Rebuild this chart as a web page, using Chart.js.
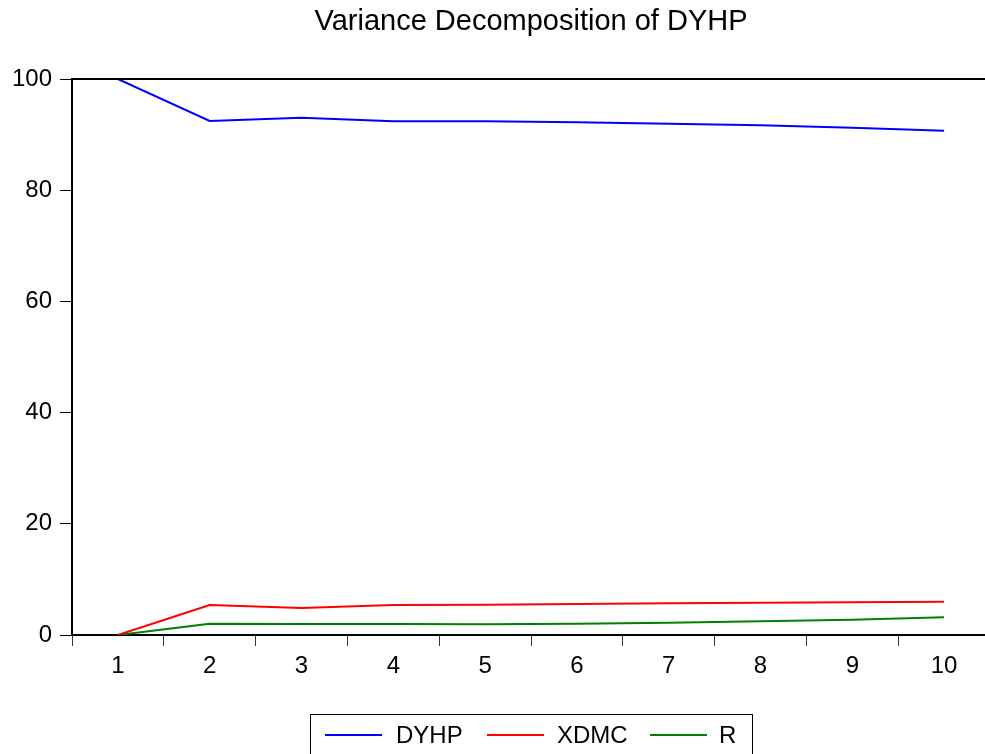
<!DOCTYPE html>
<html>
<head>
<meta charset="utf-8">
<script src="https://cdn.jsdelivr.net/npm/chart.js@4/dist/chart.umd.min.js"></script>
<style>
  html, body { margin: 0; padding: 0; background: #fff; overflow: hidden; }
  #wrap { width: 1000px; height: 754px; }
</style>
</head>
<body>
<div id="wrap"><canvas id="chart" width="1000" height="754"></canvas></div>
<script>
const periods = ['1', '2', '3', '4', '5', '6', '7', '8', '9', '10'];
const dyhp = [100, 92.45, 93.04, 92.39, 92.39, 92.21, 91.96, 91.67, 91.24, 90.70];
const xdmc = [0, 5.40, 4.86, 5.40, 5.46, 5.58, 5.70, 5.81, 5.88, 5.99];
const rVals = [0, 2.03, 1.98, 1.98, 1.95, 2.03, 2.21, 2.46, 2.75, 3.18];
const yTicks = [0, 20, 40, 60, 80, 100];

const FONT = "'Liberation Sans', Arial, sans-serif";

// title, top frame line and boxed legend like the EViews output
const frameAndLegend = {
    id: 'frameAndLegend',
    afterDraw(chart) {
        const ctx = chart.ctx;
        const area = chart.chartArea;
        ctx.save();

        ctx.strokeStyle = '#000';
        ctx.lineWidth = 2;
        ctx.beginPath();
        ctx.moveTo(area.left, area.top);
        ctx.lineTo(chart.width, area.top);
        ctx.stroke();

        ctx.fillStyle = '#000';
        ctx.font = '29px ' + FONT;
        ctx.textAlign = 'center';
        ctx.textBaseline = 'middle';
        ctx.fillText('Variance Decomposition of DYHP', (area.left + area.right) / 2, 22);

        // legend
        ctx.lineWidth = 1;
        ctx.strokeRect(310.5, 714.5, 442, 60);
        const items = [
            { x: 325, textX: 396 },
            { x: 487, textX: 557 },
            { x: 650, textX: 719 }
        ];
        ctx.font = '24px ' + FONT;
        ctx.textAlign = 'left';
        chart.data.datasets.forEach((ds, i) => {
            const it = items[i];
            ctx.strokeStyle = ds.borderColor;
            ctx.lineWidth = 2;
            ctx.beginPath();
            ctx.moveTo(it.x, 735);
            ctx.lineTo(it.x + 57, 735);
            ctx.stroke();
            ctx.fillStyle = '#000';
            ctx.fillText(ds.label, it.textX, 736);
        });
        ctx.restore();
    }
};

const ctx = document.getElementById('chart').getContext('2d');
new Chart(ctx, {
    type: 'line',
    data: {
        labels: periods,
        datasets: [
            { label: 'DYHP', data: dyhp, borderColor: '#0000ff' },
            { label: 'XDMC', data: xdmc, borderColor: '#ff0000' },
            { label: 'R', data: rVals, borderColor: '#008000' }
        ]
    },
    options: {
        responsive: false,
        animation: false,
        layout: { padding: { top: 79, right: 10, left: 0, bottom: 0 } },
        elements: {
            line: { borderWidth: 2, tension: 0 },
            point: { radius: 0 }
        },
        plugins: {
            legend: { display: false },
            title: { display: false },
            tooltip: { enabled: false }
        },
        scales: {
            x: {
                type: 'category',
                offset: true,
                grid: { offset: true, drawOnChartArea: false, tickLength: 11, color: '#333', lineWidth: 1 },
                border: { color: '#000', width: 2 },
                ticks: { color: '#000', font: { size: 24, family: FONT }, padding: 6, maxRotation: 0 },
                afterFit(scale) { scale.height = 119; }
            },
            y: {
                min: 0,
                max: 100,
                afterBuildTicks(scale) { scale.ticks = yTicks.map(v => ({ value: v })); },
                grid: { drawOnChartArea: false, tickLength: 12, color: '#000', lineWidth: 1 },
                border: { color: '#000', width: 2 },
                ticks: { color: '#000', font: { size: 24, family: FONT }, padding: 8 },
                afterFit(scale) { scale.width = 72; }
            }
        }
    },
    plugins: [frameAndLegend]
});
</script>
</body>
</html>
